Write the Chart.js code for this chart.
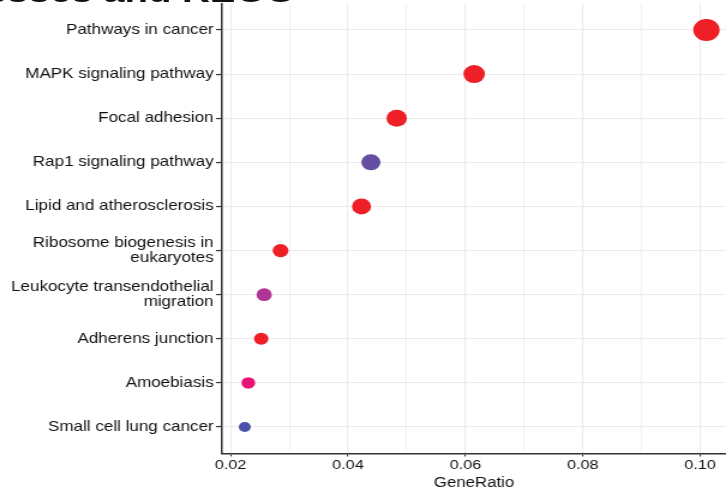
<!DOCTYPE html>
<html><head><meta charset="utf-8">
<script src="https://cdn.jsdelivr.net/npm/chart.js@4"></script>
<style>
html,body{margin:0;padding:0;background:#fff;overflow:hidden;width:726px;height:493px;}
#wrap{position:absolute;left:0;top:0;width:605px;height:493px;transform:scaleX(1.2);transform-origin:0 0;overflow:hidden;}
#title{position:absolute;right:359px;top:-27px;line-height:37px;font:bold 32px "Liberation Sans",Arial,sans-serif;white-space:nowrap;color:#111;text-align:right;z-index:2;}
canvas{position:absolute;left:0;top:0;}
</style></head>
<body>
<div id="wrap"><canvas id="c" width="605" height="493"></canvas><div id="title">GO processes and KEGG</div></div>
<script>
const categories = ["Pathways in cancer","MAPK signaling pathway","Focal adhesion","Rap1 signaling pathway","Lipid and atherosclerosis","Ribosome biogenesis in\neukaryotes","Leukocyte transendothelial\nmigration","Adherens junction","Amoebiasis","Small cell lung cancer"];
const geneRatio = [0.1011,0.0615,0.0483,0.0439,0.0423,0.0285,0.0257,0.0252,0.0230,0.0224];
const geneCount = [90,51,44,38,37,25,24,22,21,20];
const xTickLabels = ["0.02","0.04","0.06","0.08","0.10"];
const pointColors = ['#EE1F26','#EE1F26','#EE1F26','#644EA0','#EE1F26','#EE1F26','#B03492','#EE1F26','#E81473','#4B51A8'];

const rMin = 5, rMax = 11;
const cMin = Math.min(...geneCount), cMax = Math.max(...geneCount);
const radiusOf = c => rMin + (rMax - rMin) * Math.sqrt((c - cMin) / (cMax - cMin));
const n = categories.length;
const points = geneRatio.map((g, i) => ({x: g, y: n - i}));
const isMajor = v => xTickLabels.includes(v.toFixed(2));

new Chart(document.getElementById('c'), {
  type: 'scatter',
  data: {datasets: [{
    data: points,
    pointRadius: geneCount.map(radiusOf),
    pointHoverRadius: geneCount.map(radiusOf),
    backgroundColor: pointColors,
    borderColor: pointColors,
    borderWidth: 0,
    clip: false
  }]},
  options: {
    responsive: false,
    animation: false,
    devicePixelRatio: 1,
    layout: {autoPadding: false, padding: {top: 3.5, left: 0, right: 0, bottom: 0}},
    plugins: {legend: {display: false}, tooltip: {enabled: false}, title: {display: false}},
    scales: {
      x: {
        type: 'linear', position: 'bottom', min: 0.01852, max: 0.10444,
        afterBuildTicks: s => { const t = []; for (let k = 2; k <= 10; k++) t.push({value: k / 100}); s.ticks = t; },
        afterFit: s => { s.height = 39.5; s.paddingLeft = 0; s.paddingRight = 0; },
        grid: {
          color: '#EBEBEB',
          lineWidth: ctx => isMajor(ctx.tick.value) ? 1.1 : 0.7,
          tickColor: ctx => isMajor(ctx.tick.value) ? '#333' : 'rgba(0,0,0,0)',
          tickLength: 3, tickWidth: 1.1, drawTicks: true
        },
        border: {display: true, color: '#333', width: 1.5},
        ticks: {
          autoSkip: false, maxRotation: 0, padding: 1, color: '#111',
          font: {family: '"Liberation Sans", Arial, sans-serif', size: 13.5},
          callback: v => isMajor(v) ? v.toFixed(2) : ''
        },
        title: {display: true, text: 'GeneRatio', color: '#111', padding: {top: 0, bottom: 1},
          font: {family: '"Liberation Sans", Arial, sans-serif', size: 14}}
      },
      y: {
        type: 'linear', min: 0.4, max: 10.6,
        afterBuildTicks: s => { s.ticks = categories.map((c, i) => ({value: n - i})); },
        afterFit: s => { s.width = 185; s.paddingTop = 0; s.paddingBottom = 0; },
        grid: {color: '#EBEBEB', lineWidth: 1.1, tickColor: '#333', tickLength: 5, tickWidth: 1.2, drawTicks: true},
        border: {display: true, color: '#333', width: 1.5},
        ticks: {
          autoSkip: false, padding: 2, color: '#111',
          font: {family: '"Liberation Sans", Arial, sans-serif', size: 14.2, lineHeight: 1.1},
          callback: v => { const lab = categories[n - Math.round(v)]; return lab ? lab.split('\n') : ''; }
        }
      }
    }
  }
});
</script>
</body></html>
